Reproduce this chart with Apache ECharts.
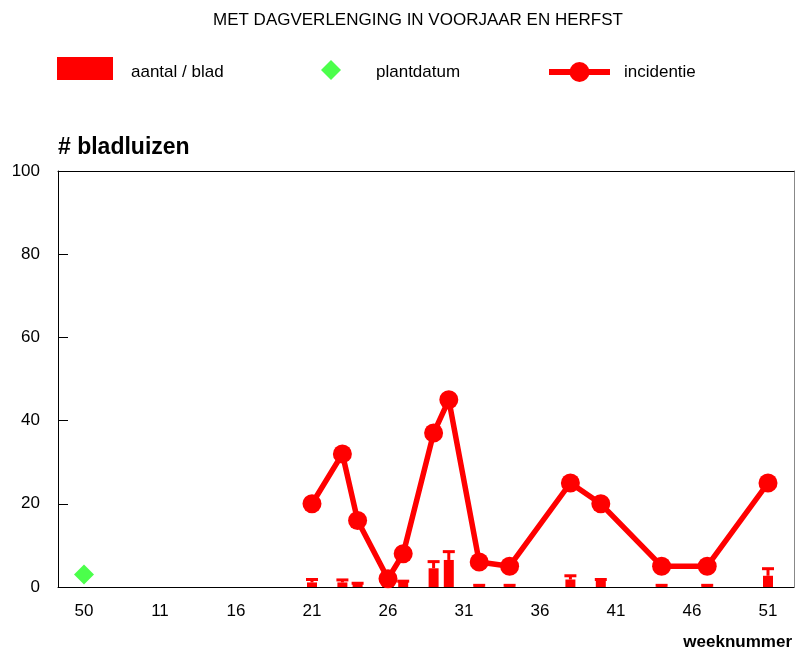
<!DOCTYPE html>
<html>
<head>
<meta charset="utf-8">
<script src="https://cdn.jsdelivr.net/npm/echarts@6/dist/echarts.min.js"></script>
<style>
  html, body { margin: 0; padding: 0; background: #fff; }
  #chart { width: 795px; height: 650px; }
</style>
</head>
<body>
<div id="chart"></div>
<script>
// week slots on the x axis: planting week 50, then weeks 7..51
const weekSlots = [50, 7, 8, 9, 10, 11, 12, 13, 14, 15, 16, 17, 18, 19, 20, 21, 22, 23, 24, 25,
  26, 27, 28, 29, 30, 31, 32, 33, 34, 35, 36, 37, 38, 39, 40, 41, 42, 43, 44, 45, 46, 47, 48, 49, 50, 51];
const tickWeeks = [50, 11, 16, 21, 26, 31, 36, 41, 46, 51];

// measurements
const weeks = [21, 23, 24, 26, 27, 29, 30, 32, 34, 38, 40, 44, 47, 51];
const incidentie = [20, 32, 16, 2, 8, 37, 45, 6, 5, 25, 20, 5, 5, 25];
const aantalPerBlad = [1.1, 1.1, 0.8, 0.3, 1.2, 4.5, 6.5, 0.3, 0.3, 1.8, 1.6, 0.3, 0.3, 2.7];
const foutBoven = [1.8, 1.7, 0.9, 0.4, 1.4, 6.1, 8.5, 0.4, 0.4, 2.7, 1.8, 0.4, 0.4, 4.4];
const plantWeek = 50;
const plantWaarde = 3;

// slot index of a week; the planting week (previous year) is slot 0
function pos(week, plant) {
  return plant ? weekSlots.indexOf(week) : weekSlots.lastIndexOf(week);
}

const chart = echarts.init(document.getElementById("chart"));

// legend label pushed a little below the icon centre
const legendText = (left, down) => ({
  fontSize: 17,
  color: "#000",
  padding: [0, 0, 0, left],
  rich: { t: { fontSize: 17, color: "#000", padding: [down, 0, 0, 0] } }
});

const option = {
  animation: false,
  textStyle: { fontFamily: "Liberation Sans, Arial, sans-serif" },
  title: {
    text: "MET DAGVERLENGING IN VOORJAAR EN HERFST",
    left: 213,
    top: 12,
    padding: 0,
    textStyle: { fontSize: 17, fontWeight: "normal", color: "#000" }
  },
  legend: [
    {
      data: [{ name: "aantal / blad", icon: "rect" }],
      left: 57, top: 57, padding: 0, itemWidth: 56, itemHeight: 23,
      formatter: "{t|{name}}",
      textStyle: legendText(13, 7)
    },
    {
      data: ["plantdatum"],
      left: 321, top: 60, padding: 0, itemWidth: 20, itemHeight: 20,
      formatter: "{t|{name}}",
      textStyle: legendText(30, 5)
    },
    {
      data: ["incidentie"],
      left: 546, top: 62, padding: 0, itemWidth: 61, itemHeight: 25,
      lineStyle: { width: 6 },
      textStyle: { fontSize: 17, color: "#000", padding: [4, 0, 0, 9] }
    }
  ],
  grid: { left: 58, right: 1, top: 171, bottom: 63, outerBoundsMode: "none" },
  xAxis: [
    {
      type: "value",
      min: -1.71,
      max: 46.71,
      name: "weeknummer",
      nameLocation: "end",
      nameGap: 0,
      nameTextStyle: {
        fontSize: 17, fontWeight: "bold", color: "#000",
        align: "right", verticalAlign: "top", padding: [47, 2, 0, 0]
      },
      axisLine: { show: true, onZero: false, lineStyle: { color: "#000", width: 1 } },
      axisTick: { show: false },
      splitLine: { show: false },
      axisLabel: {
        customValues: tickWeeks.map((w, i) => pos(w, i === 0)),
        formatter: v => String(weekSlots[Math.round(v)]),
        fontSize: 17, color: "#000", margin: 16
      }
    },
    {
      type: "value",
      position: "top",
      min: -1.71,
      max: 46.71,
      axisLine: { show: true, onZero: false, lineStyle: { color: "#000", width: 1 } },
      axisTick: { show: false },
      axisLabel: { show: false },
      splitLine: { show: false }
    }
  ],
  yAxis: [
    {
      type: "value",
      min: 0,
      max: 100,
      interval: 20,
      name: "# bladluizen",
      nameLocation: "end",
      nameGap: 23,
      nameTextStyle: {
        fontSize: 23, fontWeight: "bold", color: "#000", align: "left", verticalAlign: "middle"
      },
      axisLine: { show: true, onZero: false, lineStyle: { color: "#000", width: 1 } },
      axisTick: { show: true, inside: true, length: 10, lineStyle: { color: "#000" } },
      splitLine: { show: false },
      axisLabel: { fontSize: 17, color: "#000", margin: 18 }
    },
    {
      type: "value",
      position: "right",
      min: 0,
      max: 100,
      axisLine: { show: true, onZero: false, lineStyle: { color: "#888", width: 1 } },
      axisTick: { show: false },
      axisLabel: { show: false },
      splitLine: { show: false }
    }
  ],
  series: [
    {
      name: "aantal / blad",
      type: "bar",
      barWidth: 10,
      itemStyle: { color: "#ff0000" },
      data: weeks.map((w, i) => [pos(w), aantalPerBlad[i]]),
      z: 2
    },
    {
      name: "aantal / blad",
      type: "custom",
      data: weeks.map((w, i) => [pos(w), aantalPerBlad[i], foutBoven[i]]),
      renderItem: function(params, api) {
        const low = api.coord([api.value(0), api.value(1)]);
        const high = api.coord([api.value(0), api.value(2)]);
        const style = { stroke: "#ff0000", lineWidth: 3 };
        return {
          type: "group",
          children: [
            { type: "line", shape: { x1: low[0], y1: low[1], x2: high[0], y2: high[1] }, style: style },
            { type: "line", shape: { x1: high[0] - 6, y1: high[1], x2: high[0] + 6, y2: high[1] }, style: style }
          ]
        };
      },
      z: 3
    },
    {
      name: "plantdatum",
      type: "scatter",
      symbol: "diamond",
      symbolSize: 20,
      itemStyle: { color: "#1eff1e" },
      data: [[pos(plantWeek, true), plantWaarde]],
      z: 4
    },
    {
      name: "incidentie",
      type: "line",
      symbol: "circle",
      symbolSize: 19,
      lineStyle: { color: "#ff0000", width: 5.5 },
      itemStyle: { color: "#ff0000" },
      data: weeks.map((w, i) => [pos(w), incidentie[i]]),
      z: 5
    }
  ]
};

chart.setOption(option);
</script>
</body>
</html>
